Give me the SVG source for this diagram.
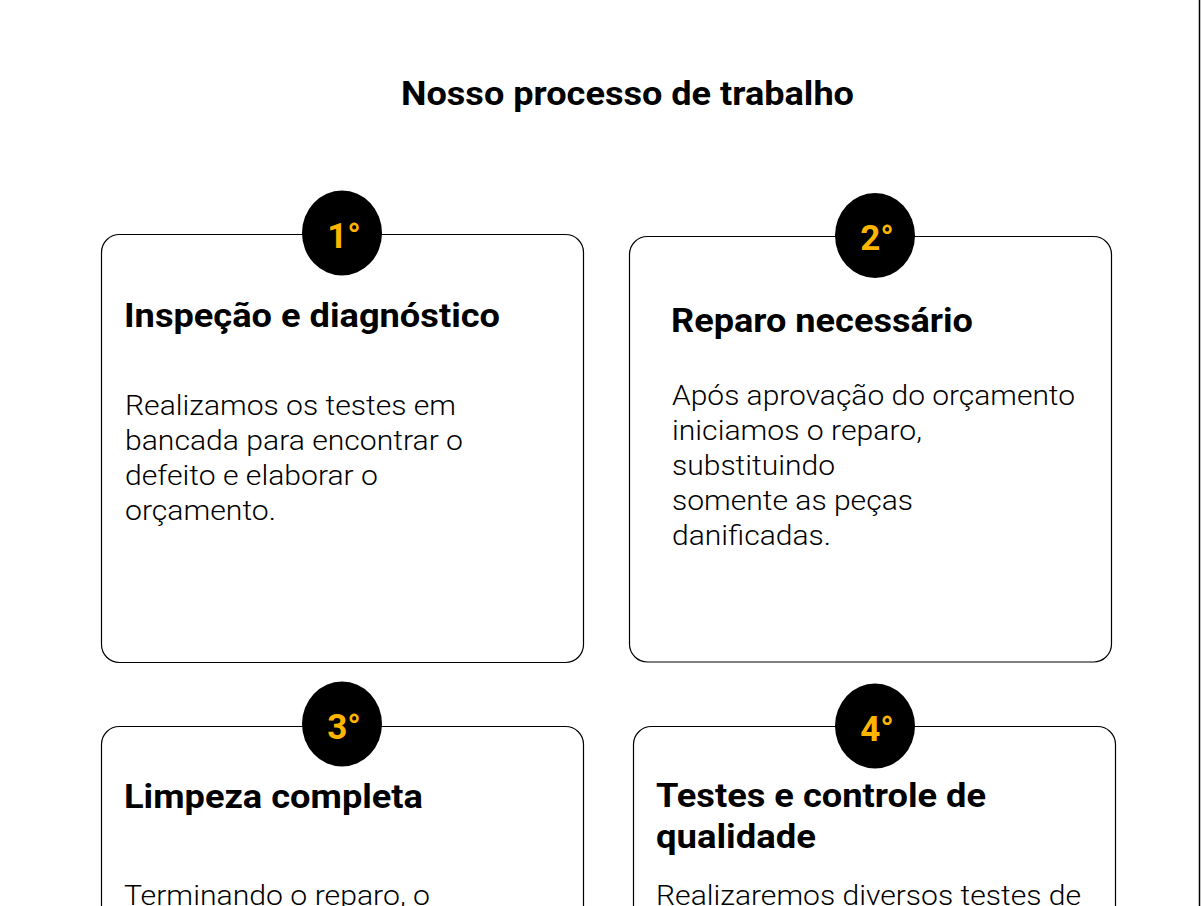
<svg xmlns="http://www.w3.org/2000/svg" width="1201" height="906" viewBox="0 0 1201 906">
<style>
.card{fill:#fff;stroke:#000;stroke-width:1.2}
.badge{fill:#000}
.num{font-family:Roboto,"Liberation Sans",sans-serif;font-weight:700;font-size:35px;fill:#FFB400;text-anchor:middle}
.h{font-family:Roboto,"Liberation Sans",sans-serif;font-weight:700;font-size:33px;fill:#000}
.b{font-family:Roboto,"Liberation Sans",sans-serif;font-weight:300;font-size:27px;fill:#000}
.t{font-family:Roboto,"Liberation Sans",sans-serif;font-weight:700;font-size:33px;fill:#000}
</style>
<rect x="0" y="0" width="1201" height="906" fill="#fff"/>
<line x1="1199.5" y1="0" x2="1199.5" y2="906" stroke="#000" stroke-width="1.5"/>
<text id="title" class="t" x="401" y="105" textLength="453" lengthAdjust="spacingAndGlyphs">Nosso processo de trabalho</text>
<g id="card1">
<rect class="card" x="101.5" y="234.5" width="482" height="428" rx="18"/>
<ellipse class="badge" cx="342" cy="233" rx="40" ry="42.5"/>
<text class="num" x="344" y="248">1°</text>
<text class="h" x="124" y="327" textLength="376" lengthAdjust="spacingAndGlyphs">Inspeção e diagnóstico</text>
<text class="b" x="125" y="415" textLength="331" lengthAdjust="spacingAndGlyphs">Realizamos os testes em</text>
<text class="b" x="125" y="450" textLength="338" lengthAdjust="spacingAndGlyphs">bancada para encontrar o</text>
<text class="b" x="125" y="485" textLength="253" lengthAdjust="spacingAndGlyphs">defeito e elaborar o</text>
<text class="b" x="125" y="520" textLength="151" lengthAdjust="spacingAndGlyphs">orçamento.</text>
</g>
<g id="card2">
<rect class="card" x="629.5" y="236.5" width="482" height="425.5" rx="18"/>
<ellipse class="badge" cx="875" cy="235.5" rx="40" ry="42.5"/>
<text class="num" x="877" y="250">2°</text>
<text class="h" x="671" y="332" textLength="302" lengthAdjust="spacingAndGlyphs">Reparo necessário</text>
<text class="b" x="672" y="405" textLength="403" lengthAdjust="spacingAndGlyphs">Após aprovação do orçamento</text>
<text class="b" x="672" y="440" textLength="250" lengthAdjust="spacingAndGlyphs">iniciamos o reparo,</text>
<text class="b" x="672" y="475" textLength="163" lengthAdjust="spacingAndGlyphs">substituindo</text>
<text class="b" x="672" y="510" textLength="241" lengthAdjust="spacingAndGlyphs">somente as peças</text>
<text class="b" x="672" y="545" textLength="159" lengthAdjust="spacingAndGlyphs">danificadas.</text>
</g>
<g id="card3">
<rect class="card" x="101.5" y="726.5" width="482" height="300" rx="18"/>
<ellipse class="badge" cx="342" cy="724" rx="40" ry="42.5"/>
<text class="num" x="344" y="739">3°</text>
<text class="h" x="124" y="808" textLength="299" lengthAdjust="spacingAndGlyphs">Limpeza completa</text>
<text class="b" x="124" y="905" textLength="306" lengthAdjust="spacingAndGlyphs">Terminando o reparo, o</text>
</g>
<g id="card4">
<rect class="card" x="633.5" y="726.5" width="482" height="300" rx="18"/>
<ellipse class="badge" cx="875" cy="726" rx="40" ry="42.5"/>
<text class="num" x="877" y="741">4°</text>
<text class="h" x="656" y="807" textLength="330" lengthAdjust="spacingAndGlyphs">Testes e controle de</text>
<text class="h" x="656" y="848" textLength="160" lengthAdjust="spacingAndGlyphs">qualidade</text>
<text class="b" x="656" y="905" textLength="425" lengthAdjust="spacingAndGlyphs">Realizaremos diversos testes de</text>
</g>
<g id="connectors"></g>
</svg>
